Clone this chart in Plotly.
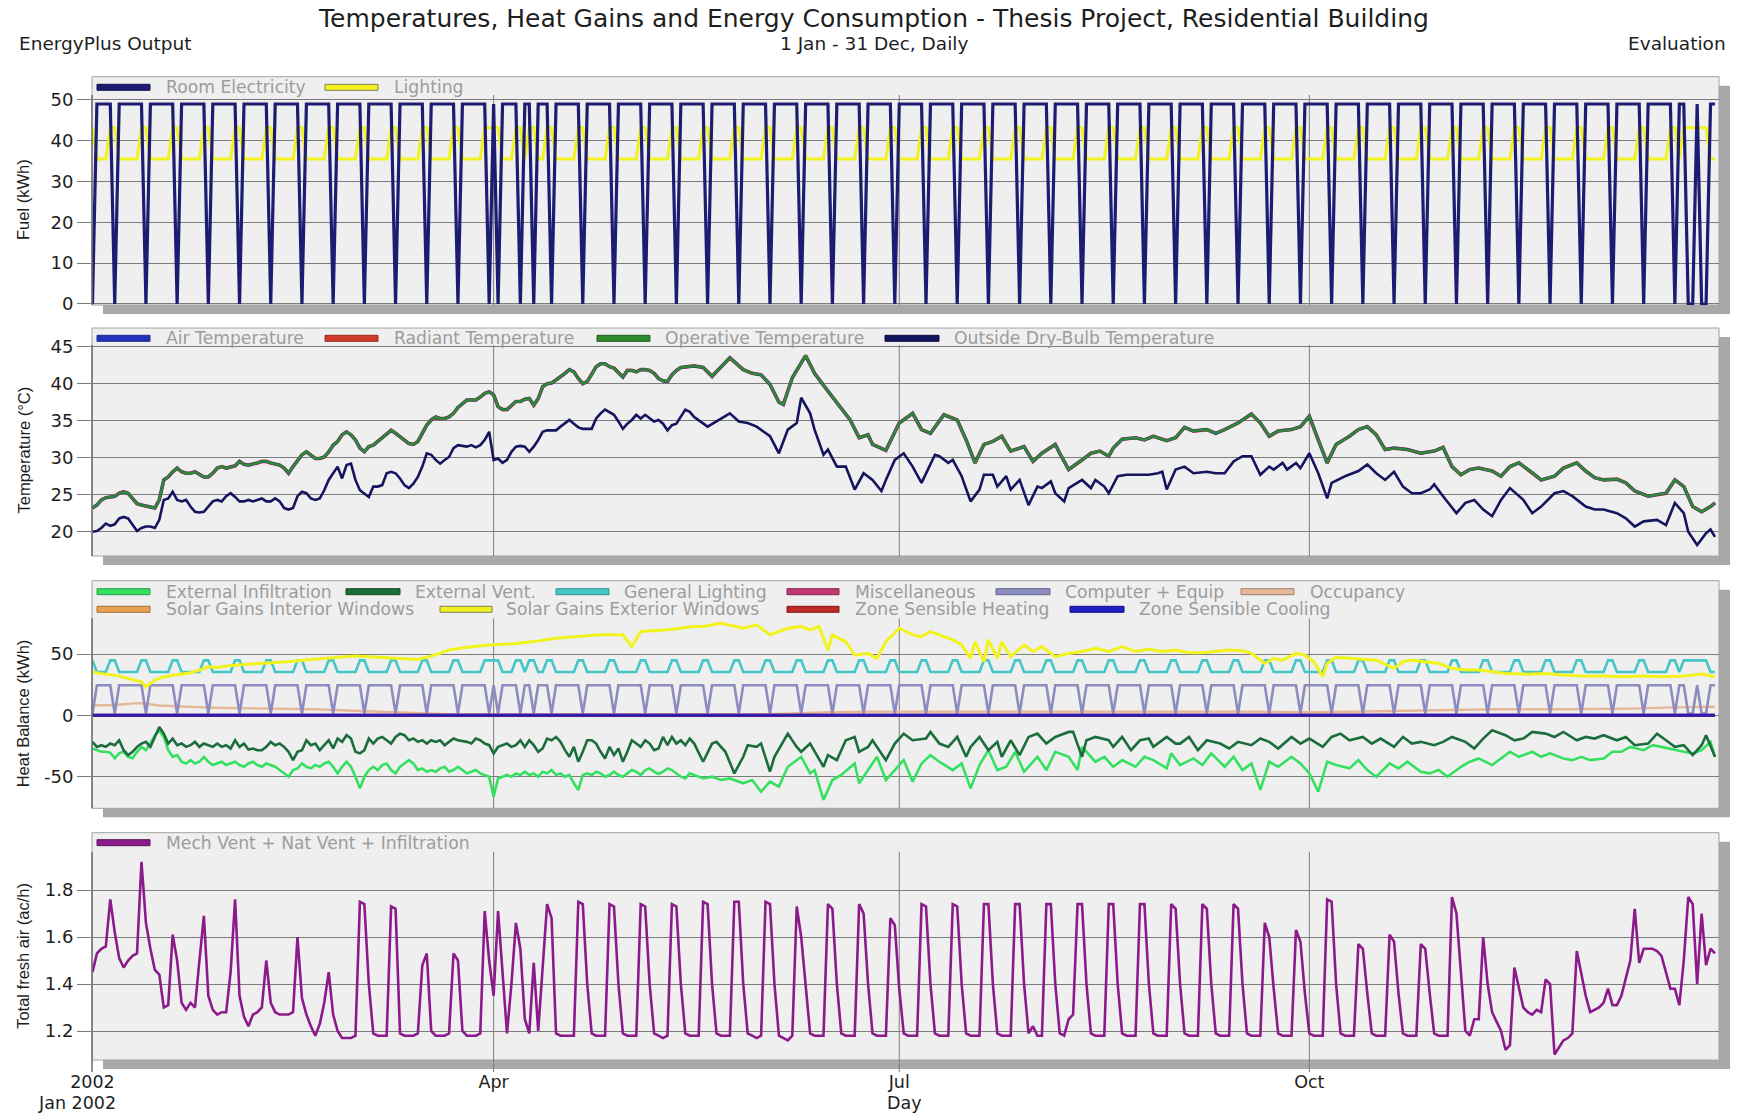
import plotly.graph_objects as go
import pandas as pd

# ===================== DATA =====================
DAYS = pd.date_range("2002-01-01", periods=365, freq="D")
START = pd.Timestamp("2002-01-01")

# ---- Panel 1: Fuel (kWh), daily; one line = one week (Tue .. Mon) ----
room_electricity = [
    0, 49, 49, 49, 49, 0, 49,
    49, 49, 49, 49, 49, 0, 49,
    49, 49, 49, 49, 49, 0, 49,
    49, 49, 49, 49, 49, 0, 49,
    49, 49, 49, 49, 49, 0, 49,
    49, 49, 49, 49, 49, 0, 49,
    49, 49, 49, 49, 49, 0, 49,
    49, 49, 49, 49, 49, 0, 49,
    49, 49, 49, 49, 49, 0, 49,
    49, 49, 49, 49, 49, 0, 49,
    49, 49, 49, 49, 49, 0, 49,
    49, 49, 49, 49, 49, 0, 49,
    49, 49, 49, 49, 49, 0, 49,
    0, 49, 49, 49, 49, 0, 49,
    49, 0, 49, 49, 49, 0, 49,
    49, 49, 49, 49, 49, 0, 49,
    49, 49, 49, 49, 49, 0, 49,
    49, 49, 49, 49, 49, 0, 49,
    49, 49, 49, 49, 49, 0, 49,
    49, 49, 49, 49, 49, 0, 49,
    49, 49, 49, 49, 49, 0, 49,
    49, 49, 49, 49, 49, 0, 49,
    49, 49, 49, 49, 49, 0, 49,
    49, 49, 49, 49, 49, 0, 49,
    49, 49, 49, 49, 49, 0, 49,
    49, 49, 49, 49, 49, 0, 49,
    49, 49, 49, 49, 49, 0, 49,
    49, 49, 49, 49, 49, 0, 49,
    49, 49, 49, 49, 49, 0, 49,
    49, 49, 49, 49, 49, 0, 49,
    49, 49, 49, 49, 49, 0, 49,
    49, 49, 49, 49, 49, 0, 49,
    49, 49, 49, 49, 49, 0, 49,
    49, 49, 49, 49, 49, 0, 49,
    49, 49, 49, 49, 49, 0, 49,
    49, 49, 49, 49, 49, 0, 49,
    49, 49, 49, 49, 49, 0, 49,
    49, 49, 49, 49, 49, 0, 49,
    49, 49, 49, 49, 49, 0, 49,
    49, 49, 49, 49, 49, 0, 49,
    49, 49, 49, 49, 49, 0, 49,
    49, 49, 49, 49, 49, 0, 49,
    49, 49, 49, 49, 49, 0, 49,
    49, 49, 49, 49, 49, 0, 49,
    49, 49, 49, 49, 49, 0, 49,
    49, 49, 49, 49, 49, 0, 49,
    49, 49, 49, 49, 49, 0, 49,
    49, 49, 49, 49, 49, 0, 49,
    49, 49, 49, 49, 49, 0, 49,
    49, 49, 49, 49, 49, 0, 49,
    49, 49, 49, 49, 49, 0, 49,
    49, 0, 0, 49, 0, 0, 49,
    49,
]
lighting = [
    43.2, 35.5, 35.5, 35.5, 43.2, 43.2, 35.5,
    35.5, 35.5, 35.5, 35.5, 43.2, 43.2, 35.5,
    35.5, 35.5, 35.5, 35.5, 43.2, 43.2, 35.5,
    35.5, 35.5, 35.5, 35.5, 43.2, 43.2, 35.5,
    35.5, 35.5, 35.5, 35.5, 43.2, 43.2, 35.5,
    35.5, 35.5, 35.5, 35.5, 43.2, 43.2, 35.5,
    35.5, 35.5, 35.5, 35.5, 43.2, 43.2, 35.5,
    35.5, 35.5, 35.5, 35.5, 43.2, 43.2, 35.5,
    35.5, 35.5, 35.5, 35.5, 43.2, 43.2, 35.5,
    35.5, 35.5, 35.5, 35.5, 43.2, 43.2, 35.5,
    35.5, 35.5, 35.5, 35.5, 43.2, 43.2, 35.5,
    35.5, 35.5, 35.5, 35.5, 43.2, 43.2, 35.5,
    35.5, 35.5, 35.5, 35.5, 43.2, 43.2, 43.2,
    43.2, 35.5, 35.5, 35.5, 43.2, 43.2, 35.5,
    43.2, 43.2, 35.5, 35.5, 43.2, 43.2, 35.5,
    35.5, 35.5, 35.5, 35.5, 43.2, 43.2, 35.5,
    35.5, 35.5, 35.5, 35.5, 43.2, 43.2, 35.5,
    35.5, 35.5, 35.5, 35.5, 43.2, 43.2, 35.5,
    35.5, 35.5, 35.5, 35.5, 43.2, 43.2, 35.5,
    35.5, 35.5, 35.5, 35.5, 43.2, 43.2, 35.5,
    35.5, 35.5, 35.5, 35.5, 43.2, 43.2, 35.5,
    35.5, 35.5, 35.5, 35.5, 43.2, 43.2, 35.5,
    35.5, 35.5, 35.5, 35.5, 43.2, 43.2, 35.5,
    35.5, 35.5, 35.5, 35.5, 43.2, 43.2, 35.5,
    35.5, 35.5, 35.5, 35.5, 43.2, 43.2, 35.5,
    35.5, 35.5, 35.5, 35.5, 43.2, 43.2, 35.5,
    35.5, 35.5, 35.5, 35.5, 43.2, 43.2, 35.5,
    35.5, 35.5, 35.5, 35.5, 43.2, 43.2, 35.5,
    35.5, 35.5, 35.5, 35.5, 43.2, 43.2, 35.5,
    35.5, 35.5, 35.5, 35.5, 43.2, 43.2, 35.5,
    35.5, 35.5, 35.5, 35.5, 43.2, 43.2, 35.5,
    35.5, 35.5, 35.5, 35.5, 43.2, 43.2, 35.5,
    35.5, 35.5, 35.5, 35.5, 43.2, 43.2, 35.5,
    35.5, 35.5, 35.5, 35.5, 43.2, 43.2, 35.5,
    35.5, 35.5, 35.5, 35.5, 43.2, 43.2, 35.5,
    35.5, 35.5, 35.5, 35.5, 43.2, 43.2, 35.5,
    35.5, 35.5, 35.5, 35.5, 43.2, 43.2, 35.5,
    35.5, 35.5, 35.5, 35.5, 43.2, 43.2, 35.5,
    35.5, 35.5, 35.5, 35.5, 43.2, 43.2, 35.5,
    35.5, 35.5, 35.5, 35.5, 43.2, 43.2, 35.5,
    35.5, 35.5, 35.5, 35.5, 43.2, 43.2, 35.5,
    35.5, 35.5, 35.5, 35.5, 43.2, 43.2, 35.5,
    35.5, 35.5, 35.5, 35.5, 43.2, 43.2, 35.5,
    35.5, 35.5, 35.5, 35.5, 43.2, 43.2, 35.5,
    35.5, 35.5, 35.5, 35.5, 43.2, 43.2, 35.5,
    35.5, 35.5, 35.5, 35.5, 43.2, 43.2, 35.5,
    35.5, 35.5, 35.5, 35.5, 43.2, 43.2, 35.5,
    35.5, 35.5, 35.5, 35.5, 43.2, 43.2, 35.5,
    35.5, 35.5, 35.5, 35.5, 43.2, 43.2, 35.5,
    35.5, 35.5, 35.5, 35.5, 43.2, 43.2, 35.5,
    35.5, 35.5, 35.5, 35.5, 43.2, 43.2, 35.5,
    43.2, 43.2, 43.2, 43.2, 43.2, 43.2, 35.5,
    35.5,
]

# ---- Panel 2: Temperatures (°C) ----
operative_daily = [
    23.2, 23.6, 24.3, 24.6, 24.7, 24.8, 25.2, 25.4, 25.2, 24.5,
    23.8, 23.6, 23.5, 23.3, 23.2, 24.3, 27.0, 27.4, 28.1, 28.6,
    28.1, 27.9, 27.9, 28.1, 27.8, 27.4, 27.4, 27.9, 28.6, 28.8,
    28.6, 28.8, 28.9, 29.5, 29.1, 29.0, 29.1, 29.3, 29.5, 29.5,
    29.3, 29.2, 29.0, 28.6, 27.9, 28.8, 29.6, 30.4, 30.8, 30.4,
    29.9, 29.9, 30.1, 30.8, 31.7, 32.2, 33.1, 33.5, 33.1, 32.4,
    31.3, 30.8, 31.5, 31.7, 32.2, 32.8, 33.3, 33.7, 33.3, 32.8,
    32.4, 31.9, 31.8, 32.2, 33.3, 34.4, 35.1, 35.5, 35.3, 35.3,
    35.5, 36.0, 36.8, 37.3, 37.8, 37.8, 37.8, 38.2, 38.7, 38.9,
    38.5, 36.9, 36.5, 36.5, 37.1, 37.6, 37.6, 37.9, 38.0, 37.1,
    38.0, 39.6, 40.0, 40.1, 40.5, 40.9, 41.4, 41.9, 41.6, 40.7,
    40.0, 40.3, 41.2, 42.3, 42.7, 42.7, 42.3, 42.1, 41.5, 40.9,
    41.8, 41.8, 41.6, 41.9, 41.9, 41.8, 41.4, 40.7, 40.4, 40.3,
    41.2, 41.8, 42.2, 42.3, 42.3, 42.4,
]
operative_tail = [
    (137, 42.2), (139, 41.0), (143, 43.5), (146, 41.9), (148, 41.4), (150, 41.2),
    (152, 39.9), (154, 37.5), (155, 37.2), (157, 40.8), (160, 43.8), (162, 41.4),
    (165, 39.0), (168, 36.7), (170, 35.1), (172, 32.7), (174, 33.1), (175, 31.8),
    (178, 31.0), (181, 34.7), (184, 36.0), (186, 33.8), (188, 33.3), (191, 35.8),
    (194, 35.1), (196, 32.4), (198, 29.3), (200, 31.8), (202, 32.2), (204, 32.9),
    (206, 30.9), (209, 31.5), (211, 29.5), (213, 30.6), (216, 31.8), (217, 30.6),
    (219, 28.4), (222, 29.7), (224, 30.6), (226, 30.9), (228, 30.2), (229, 31.3),
    (231, 32.5), (234, 32.7), (236, 32.4), (238, 32.9), (241, 32.3), (243, 32.7),
    (245, 34.1), (247, 33.6), (250, 33.8), (252, 33.3), (254, 33.8), (257, 34.7),
    (260, 35.9), (262, 34.7), (264, 32.9), (266, 33.6), (269, 33.8), (271, 34.2),
    (273, 35.6), (275, 32.4), (277, 29.3), (279, 31.8), (282, 32.9), (284, 33.8),
    (286, 34.2), (288, 33.1), (290, 31.1), (292, 31.3), (295, 31.1), (298, 30.6),
    (301, 30.9), (303, 31.4), (305, 28.8), (307, 27.7), (309, 28.4), (311, 28.6),
    (314, 28.2), (316, 27.5), (318, 28.8), (320, 29.3), (323, 28.0), (325, 27.0),
    (328, 27.5), (330, 28.6), (333, 29.3), (335, 28.2), (337, 27.3), (339, 27.0),
    (342, 27.1), (344, 26.6), (346, 25.5), (349, 24.8), (351, 25.0), (353, 25.2),
    (355, 27.0), (357, 26.1), (359, 23.4), (361, 22.7), (363, 23.4), (364, 23.9),
]
outside_daily = [
    20.0, 20.1, 20.5, 21.1, 20.8, 21.0, 21.8, 22.0, 21.8, 21.0,
    20.1, 20.5, 20.7, 20.7, 20.5, 21.6, 24.3, 24.5, 25.4, 24.3,
    24.1, 24.3, 23.4, 22.7, 22.6, 22.7, 23.4, 24.1, 24.3, 24.1,
    24.8, 25.2, 24.7, 24.1, 24.1, 24.3, 24.1, 24.3, 24.5, 24.1,
    24.1, 24.5, 24.1, 23.2, 23.0, 23.2, 24.8, 25.4, 25.2, 24.5,
    24.3, 24.5, 25.6, 27.0, 27.9, 28.8, 27.2, 29.0, 29.2, 27.0,
    25.6, 25.2, 24.7, 26.1, 26.1, 26.3, 27.9, 28.1, 27.9, 27.2,
    26.3, 25.9, 26.5, 27.4, 28.8, 30.6, 30.4, 29.7, 29.2, 29.7,
    30.1, 31.3, 31.7, 31.6, 31.5, 31.7, 31.4, 31.7, 32.4, 33.5,
    29.7, 29.9, 29.3, 29.7, 30.8, 31.5, 31.6, 31.5, 30.8, 31.5,
    32.4, 33.5, 33.7, 33.7, 33.7, 34.2, 34.6, 35.1, 34.6, 34.1,
    33.9, 33.9, 33.9, 35.3, 36.0, 36.5, 36.2, 35.8, 34.9, 33.9,
    34.6, 35.1, 35.8, 35.3, 35.8, 35.3, 34.9, 35.1, 34.6, 33.7,
    34.4, 34.6, 35.5, 36.5, 36.2, 35.5,
]
outside_tail = [
    (138, 34.2), (140, 34.9), (143, 36.0), (145, 34.9), (147, 34.7), (149, 34.2),
    (152, 32.9), (154, 30.6), (156, 33.8), (158, 34.7), (159, 38.1), (161, 36.0),
    (162, 33.8), (164, 30.4), (165, 31.1), (167, 28.8), (169, 28.8), (171, 25.7),
    (173, 27.9), (175, 27.0), (177, 25.5), (178, 27.0), (180, 29.7), (182, 30.6),
    (184, 28.8), (186, 26.6), (187, 27.9), (189, 30.4), (190, 30.2), (192, 29.3),
    (193, 29.7), (195, 27.5), (197, 24.1), (199, 25.7), (200, 27.7), (202, 27.7),
    (203, 26.1), (205, 27.5), (206, 25.7), (208, 27.0), (210, 23.6), (212, 26.1),
    (213, 25.9), (215, 26.8), (216, 25.2), (218, 24.1), (219, 25.9), (221, 26.6),
    (222, 27.0), (224, 25.9), (225, 27.0), (227, 26.1), (228, 25.2), (230, 27.5),
    (232, 27.7), (234, 27.7), (237, 27.7), (239, 27.9), (240, 28.1), (241, 25.7),
    (243, 28.4), (245, 28.8), (247, 27.9), (250, 28.1), (252, 27.9), (254, 27.9),
    (256, 29.5), (258, 30.2), (260, 30.2), (262, 27.7), (264, 28.8), (265, 28.4),
    (267, 29.3), (268, 28.4), (270, 29.3), (271, 28.6), (273, 30.6), (275, 27.9),
    (277, 24.5), (278, 26.6), (281, 27.5), (284, 28.2), (286, 29.1), (288, 27.9),
    (290, 27.0), (292, 28.1), (294, 26.1), (296, 25.2), (298, 25.2), (300, 25.7),
    (301, 26.4), (303, 24.8), (306, 22.5), (308, 23.9), (310, 24.3), (312, 23.0),
    (314, 22.1), (316, 24.3), (318, 25.9), (321, 24.3), (323, 22.5), (325, 23.4),
    (328, 25.2), (330, 25.5), (332, 24.8), (335, 23.4), (337, 23.0), (339, 23.0),
    (342, 22.5), (344, 21.8), (346, 20.7), (348, 21.4), (351, 21.6), (353, 20.9),
    (355, 23.9), (357, 22.5), (358, 20.0), (360, 18.2), (362, 19.8), (363, 20.3),
    (364, 19.3),
]

# ---- Panel 3: Heat balance (kWh) ----
infiltration_daily = [
    -27, -28.4, -29.7, -29.7, -30.5, -35, -31, -29.7, -33.8, -35,
    -29.7, -25.7, -28.4, -23, -16.2, -12.2, -17.6, -28.4, -33.8, -32.4,
    -37.8, -39.2, -36.5, -39.2, -37.8, -33.8, -37.8, -40.5, -39.2, -37.8,
    -40.5, -39.2, -37.8, -40.5, -41.9, -39.2, -37.8, -40.5, -41.9, -39.2,
    -40.5, -41.9, -44.6, -47.3, -50, -44.6, -43.2, -39.2, -41.9, -43.2,
    -40.5, -41.9, -39.2, -37.8, -41.9, -47.3, -41.9, -37.8, -41.9, -50,
    -59.5, -50, -44.6, -41.9, -44.6, -40.5, -39.2, -44.6, -47.3, -41.9,
    -39.2, -36.5, -39.2, -44.6, -43.2, -45.9, -44.6, -45.9, -43.2, -41.9,
    -45.9, -44.6, -41.9, -44.6, -47.3, -45.9, -44.6, -47.3, -48.6, -50,
    -66.2, -51.4, -50, -48.6, -50, -47.3, -48.6, -45.9, -48.6, -47.3,
    -50, -45.9, -47.3, -44.6, -48.6, -47.3, -50, -48.6, -55.4, -60.8,
    -48.6, -47.3, -48.6, -45.9, -47.3, -50, -48.6, -45.9, -48.6, -50,
    -47.3, -44.6, -45.9, -48.6, -44.6, -43.2, -45.9, -47.8, -45.9, -43.2,
    -44.6, -47.3, -50, -51.4, -47.3, -48.6,
]
infiltration_tail = [
    (137, -51.4), (139, -50), (141, -52.7), (143, -51.4), (146, -55.4), (148, -52.7),
    (150, -62.2), (152, -54.1), (154, -58.1), (156, -41.9), (159, -33.8), (161, -47.3),
    (162, -44.6), (164, -68.9), (166, -52.7), (168, -48.6), (171, -39.2), (172, -55.4),
    (174, -44.6), (176, -33.8), (178, -52.7), (181, -40.5), (182, -36.5), (184, -54.1),
    (186, -39.2), (188, -32.4), (190, -37.8), (193, -44.6), (195, -39.2), (197, -59.5),
    (199, -40.5), (201, -28.4), (203, -44.6), (205, -41.9), (207, -29.7), (209, -45.9),
    (212, -33.8), (214, -44.6), (216, -29.7), (219, -33.8), (221, -44.6), (222, -25.7),
    (225, -37.8), (227, -33.8), (229, -41.9), (231, -36.5), (234, -41.9), (236, -33.8),
    (238, -36.5), (241, -43.2), (242, -31), (244, -40.5), (247, -35.1), (249, -40.5),
    (251, -31), (254, -41.9), (256, -33.8), (258, -44.6), (260, -39.2), (262, -60.8),
    (264, -37.8), (266, -41.9), (269, -33.8), (271, -39.2), (273, -47.3), (275, -62.2),
    (277, -37.8), (279, -40.5), (282, -43.2), (284, -36.5), (286, -44.6), (288, -50),
    (291, -39.2), (293, -43.2), (295, -37.8), (298, -45.9), (300, -47.3), (302, -44.6),
    (304, -50), (307, -41.9), (309, -37.8), (311, -35.1), (314, -40.5), (316, -35.1),
    (318, -29.7), (320, -33.8), (323, -29.7), (325, -33.8), (327, -31), (330, -35.1),
    (332, -36.5), (334, -33.8), (336, -36.5), (339, -35.1), (341, -29.7), (343, -29.7),
    (345, -25.7), (348, -28.4), (350, -24.3), (352, -25.7), (355, -28.4), (357, -29.7),
    (359, -31), (361, -28.4), (363, -21.6), (364, -33.8),
]
vent_daily = [
    -21.6, -25.7, -24.3, -25.7, -23, -24.3, -20.3, -28.4, -32.4, -29.7,
    -25.7, -23, -21.6, -25.7, -17.6, -9.5, -14.9, -23, -18.9, -24.3,
    -23, -25.7, -24.3, -21.6, -25.7, -23, -24.3, -25.7, -23, -25.7,
    -24.3, -27, -20.3, -25.7, -23, -27.8, -27, -28.4, -28.4, -25.7,
    -21.6, -24.3, -23, -25.7, -29.7, -36.5, -29.7, -28.4, -20.3, -24.3,
    -23, -28.4, -24.3, -20.3, -27, -18.9, -21.6, -16.2, -18.9, -29.7,
    -31, -28.4, -18.9, -23, -18.9, -17.6, -20.3, -23, -17.6, -14.9,
    -16.2, -20.3, -18.9, -21.6, -20.3, -23, -20.3, -21.6, -20.3, -24.3,
    -21.6, -18.9, -20.3, -20.8, -21.6, -23, -18.9, -20.3, -23, -24.3,
    -31, -25.7, -24.3, -23, -25.7, -24.3, -20.3, -25.7, -20.3, -24.3,
    -29.7, -27, -18.9, -20.3, -17.6, -21.6, -28.4, -33.8, -25.7, -37.8,
    -29.7, -20.3, -20.3, -23, -29.7, -35.1, -25.7, -32.4, -27, -37.8,
    -29.7, -20.3, -23, -25.7, -20.3, -23, -28.4, -27, -17.6, -24.3,
    -17.6, -23, -20.3, -24.3, -18.9, -23,
]
vent_tail = [
    (137, -37.8), (139, -23), (140, -21.6), (142, -29.7), (144, -47.3), (146, -33.8),
    (147, -24.3), (149, -25.7), (150, -23), (152, -45.9), (153, -33.8), (156, -14.9),
    (158, -25.7), (159, -29.7), (161, -23), (162, -29.7), (164, -41.9), (165, -32.4),
    (167, -36.5), (169, -20.3), (171, -17.6), (172, -29.7), (174, -25.7), (175, -20.3),
    (178, -36.5), (180, -23), (182, -14.9), (184, -20.3), (187, -18.9), (188, -13.5),
    (190, -23), (192, -25.7), (194, -17.6), (196, -33.8), (197, -25.7), (199, -17.6),
    (201, -28.4), (203, -21.6), (204, -33.8), (206, -20.3), (208, -32.4), (210, -17.6),
    (212, -14.9), (214, -23), (216, -17.6), (219, -13.5), (220, -13.5), (222, -33.8),
    (223, -20.3), (225, -17.6), (228, -20.3), (229, -25.7), (231, -17.6), (233, -28.4),
    (235, -20.3), (237, -18.9), (238, -25.7), (241, -17.6), (243, -23), (244, -23),
    (246, -17.6), (248, -28.4), (250, -20.3), (253, -23), (255, -27), (257, -21.6),
    (260, -24.3), (262, -18.9), (264, -21.6), (266, -27), (269, -17.6), (271, -23),
    (273, -18.9), (276, -25.7), (278, -17.6), (280, -14.9), (282, -20.3), (285, -17.6),
    (287, -23), (289, -18.9), (292, -25.7), (294, -17.6), (296, -23), (298, -21.6),
    (301, -24.3), (303, -21.6), (305, -17.6), (308, -21.6), (310, -27), (312, -18.9),
    (314, -12.2), (317, -16.2), (319, -20.3), (321, -18.9), (323, -13.5), (326, -14.9),
    (328, -17.6), (330, -13.5), (333, -20.3), (335, -17.6), (337, -18.9), (339, -16.2),
    (342, -20.3), (344, -17.6), (346, -24.3), (349, -23), (351, -14.9), (353, -20.3),
    (355, -25.7), (357, -24.3), (359, -32.4), (361, -24.3), (362, -16.2), (364, -33.8),
]
general_lighting = [
    44.8, 35.3, 35.3, 35.3, 44.8, 44.8, 35.3,
    35.3, 35.3, 35.3, 35.3, 44.8, 44.8, 35.3,
    35.3, 35.3, 35.3, 35.3, 44.8, 44.8, 35.3,
    35.3, 35.3, 35.3, 35.3, 44.8, 44.8, 35.3,
    35.3, 35.3, 35.3, 35.3, 44.8, 44.8, 35.3,
    35.3, 35.3, 35.3, 35.3, 44.8, 44.8, 35.3,
    35.3, 35.3, 35.3, 35.3, 44.8, 44.8, 35.3,
    35.3, 35.3, 35.3, 35.3, 44.8, 44.8, 35.3,
    35.3, 35.3, 35.3, 35.3, 44.8, 44.8, 35.3,
    35.3, 35.3, 35.3, 35.3, 44.8, 44.8, 35.3,
    35.3, 35.3, 35.3, 35.3, 44.8, 44.8, 35.3,
    35.3, 35.3, 35.3, 35.3, 44.8, 44.8, 35.3,
    35.3, 35.3, 35.3, 35.3, 44.8, 44.8, 44.8,
    44.8, 35.3, 35.3, 35.3, 44.8, 44.8, 35.3,
    44.8, 44.8, 35.3, 35.3, 44.8, 44.8, 35.3,
    35.3, 35.3, 35.3, 35.3, 44.8, 44.8, 35.3,
    35.3, 35.3, 35.3, 35.3, 44.8, 44.8, 35.3,
    35.3, 35.3, 35.3, 35.3, 44.8, 44.8, 35.3,
    35.3, 35.3, 35.3, 35.3, 44.8, 44.8, 35.3,
    35.3, 35.3, 35.3, 35.3, 44.8, 44.8, 35.3,
    35.3, 35.3, 35.3, 35.3, 44.8, 44.8, 35.3,
    35.3, 35.3, 35.3, 35.3, 44.8, 44.8, 35.3,
    35.3, 35.3, 35.3, 35.3, 44.8, 44.8, 35.3,
    35.3, 35.3, 35.3, 35.3, 44.8, 44.8, 35.3,
    35.3, 35.3, 35.3, 35.3, 44.8, 44.8, 35.3,
    35.3, 35.3, 35.3, 35.3, 44.8, 44.8, 35.3,
    35.3, 35.3, 35.3, 35.3, 44.8, 44.8, 35.3,
    35.3, 35.3, 35.3, 35.3, 44.8, 44.8, 35.3,
    35.3, 35.3, 35.3, 35.3, 44.8, 44.8, 35.3,
    35.3, 35.3, 35.3, 35.3, 44.8, 44.8, 35.3,
    35.3, 35.3, 35.3, 35.3, 44.8, 44.8, 35.3,
    35.3, 35.3, 35.3, 35.3, 44.8, 44.8, 35.3,
    35.3, 35.3, 35.3, 35.3, 44.8, 44.8, 35.3,
    35.3, 35.3, 35.3, 35.3, 44.8, 44.8, 35.3,
    35.3, 35.3, 35.3, 35.3, 44.8, 44.8, 35.3,
    35.3, 35.3, 35.3, 35.3, 44.8, 44.8, 35.3,
    35.3, 35.3, 35.3, 35.3, 44.8, 44.8, 35.3,
    35.3, 35.3, 35.3, 35.3, 44.8, 44.8, 35.3,
    35.3, 35.3, 35.3, 35.3, 44.8, 44.8, 35.3,
    35.3, 35.3, 35.3, 35.3, 44.8, 44.8, 35.3,
    35.3, 35.3, 35.3, 35.3, 44.8, 44.8, 35.3,
    35.3, 35.3, 35.3, 35.3, 44.8, 44.8, 35.3,
    35.3, 35.3, 35.3, 35.3, 44.8, 44.8, 35.3,
    35.3, 35.3, 35.3, 35.3, 44.8, 44.8, 35.3,
    35.3, 35.3, 35.3, 35.3, 44.8, 44.8, 35.3,
    35.3, 35.3, 35.3, 35.3, 44.8, 44.8, 35.3,
    35.3, 35.3, 35.3, 35.3, 44.8, 44.8, 35.3,
    35.3, 35.3, 35.3, 35.3, 44.8, 44.8, 35.3,
    35.3, 35.3, 35.3, 35.3, 44.8, 44.8, 35.3,
    35.3, 35.3, 35.3, 35.3, 44.8, 44.8, 35.3,
    35.3, 35.3, 35.3, 35.3, 44.8, 44.8, 35.3,
    44.8, 44.8, 44.8, 44.8, 44.8, 44.8, 35.3,
    35.3,
]
computer_equip = [
    1.5, 24.5, 24.5, 24.5, 24.5, 1.5, 24.5,
    24.5, 24.5, 24.5, 24.5, 24.5, 1.5, 24.5,
    24.5, 24.5, 24.5, 24.5, 24.5, 1.5, 24.5,
    24.5, 24.5, 24.5, 24.5, 24.5, 1.5, 24.5,
    24.5, 24.5, 24.5, 24.5, 24.5, 1.5, 24.5,
    24.5, 24.5, 24.5, 24.5, 24.5, 1.5, 24.5,
    24.5, 24.5, 24.5, 24.5, 24.5, 1.5, 24.5,
    24.5, 24.5, 24.5, 24.5, 24.5, 1.5, 24.5,
    24.5, 24.5, 24.5, 24.5, 24.5, 1.5, 24.5,
    24.5, 24.5, 24.5, 24.5, 24.5, 1.5, 24.5,
    24.5, 24.5, 24.5, 24.5, 24.5, 1.5, 24.5,
    24.5, 24.5, 24.5, 24.5, 24.5, 1.5, 24.5,
    24.5, 24.5, 24.5, 24.5, 24.5, 1.5, 24.5,
    1.5, 24.5, 24.5, 24.5, 24.5, 1.5, 24.5,
    24.5, 1.5, 24.5, 24.5, 24.5, 1.5, 24.5,
    24.5, 24.5, 24.5, 24.5, 24.5, 1.5, 24.5,
    24.5, 24.5, 24.5, 24.5, 24.5, 1.5, 24.5,
    24.5, 24.5, 24.5, 24.5, 24.5, 1.5, 24.5,
    24.5, 24.5, 24.5, 24.5, 24.5, 1.5, 24.5,
    24.5, 24.5, 24.5, 24.5, 24.5, 1.5, 24.5,
    24.5, 24.5, 24.5, 24.5, 24.5, 1.5, 24.5,
    24.5, 24.5, 24.5, 24.5, 24.5, 1.5, 24.5,
    24.5, 24.5, 24.5, 24.5, 24.5, 1.5, 24.5,
    24.5, 24.5, 24.5, 24.5, 24.5, 1.5, 24.5,
    24.5, 24.5, 24.5, 24.5, 24.5, 1.5, 24.5,
    24.5, 24.5, 24.5, 24.5, 24.5, 1.5, 24.5,
    24.5, 24.5, 24.5, 24.5, 24.5, 1.5, 24.5,
    24.5, 24.5, 24.5, 24.5, 24.5, 1.5, 24.5,
    24.5, 24.5, 24.5, 24.5, 24.5, 1.5, 24.5,
    24.5, 24.5, 24.5, 24.5, 24.5, 1.5, 24.5,
    24.5, 24.5, 24.5, 24.5, 24.5, 1.5, 24.5,
    24.5, 24.5, 24.5, 24.5, 24.5, 1.5, 24.5,
    24.5, 24.5, 24.5, 24.5, 24.5, 1.5, 24.5,
    24.5, 24.5, 24.5, 24.5, 24.5, 1.5, 24.5,
    24.5, 24.5, 24.5, 24.5, 24.5, 1.5, 24.5,
    24.5, 24.5, 24.5, 24.5, 24.5, 1.5, 24.5,
    24.5, 24.5, 24.5, 24.5, 24.5, 1.5, 24.5,
    24.5, 24.5, 24.5, 24.5, 24.5, 1.5, 24.5,
    24.5, 24.5, 24.5, 24.5, 24.5, 1.5, 24.5,
    24.5, 24.5, 24.5, 24.5, 24.5, 1.5, 24.5,
    24.5, 24.5, 24.5, 24.5, 24.5, 1.5, 24.5,
    24.5, 24.5, 24.5, 24.5, 24.5, 1.5, 24.5,
    24.5, 24.5, 24.5, 24.5, 24.5, 1.5, 24.5,
    24.5, 24.5, 24.5, 24.5, 24.5, 1.5, 24.5,
    24.5, 24.5, 24.5, 24.5, 24.5, 1.5, 24.5,
    24.5, 24.5, 24.5, 24.5, 24.5, 1.5, 24.5,
    24.5, 24.5, 24.5, 24.5, 24.5, 1.5, 24.5,
    24.5, 24.5, 24.5, 24.5, 24.5, 1.5, 24.5,
    24.5, 24.5, 24.5, 24.5, 24.5, 1.5, 24.5,
    24.5, 24.5, 24.5, 24.5, 24.5, 1.5, 24.5,
    24.5, 24.5, 24.5, 24.5, 24.5, 1.5, 24.5,
    24.5, 1.5, 1.5, 24.5, 1.5, 1.5, 24.5,
    24.5,
]
solar_ext_points = [
    (0, 35.5), (2, 34.0), (5, 32.8), (8, 30.0), (11, 27.3), (12, 23.2), (14, 28.7),
    (16, 31.4), (19, 32.8), (22, 34.7), (24, 36.9), (26, 39.6), (28, 39.0), (30, 40.2),
    (34, 41.5), (39, 42.3), (44, 43.7), (49, 45.6), (54, 47.3), (59, 48.4), (64, 47.3),
    (69, 46.4), (73, 45.6), (75, 47.3), (78, 50.5), (80, 53.3), (84, 55.5), (89, 57.4),
    (94, 58.2), (99, 60.1), (104, 62.8), (109, 64.2), (114, 65.6), (119, 65.6), (121, 56.0),
    (123, 68.3), (129, 69.7), (135, 72.4), (137, 72.4), (141, 75.0), (146, 71.0), (149, 73.8),
    (152, 65.6), (156, 71.0), (159, 72.4), (161, 69.7), (163, 72.4), (165, 53.3), (166, 65.6),
    (169, 60.0), (171, 49.0), (174, 50.5), (176, 46.4), (178, 60.0), (181, 71.0), (184, 65.6),
    (186, 64.2), (188, 68.3), (190, 65.6), (193, 61.5), (195, 57.4), (197, 46.4), (198, 60.0),
    (200, 43.7), (201, 61.5), (203, 46.4), (204, 60.0), (206, 47.8), (209, 57.4), (211, 52.0),
    (213, 56.0), (216, 47.8), (219, 50.5), (222, 52.0), (225, 54.6), (228, 52.0), (231, 56.0),
    (234, 52.0), (237, 53.8), (240, 52.0), (243, 53.3), (246, 51.0), (249, 51.0), (252, 52.0),
    (255, 53.3), (258, 52.7), (260, 50.5), (263, 42.3), (265, 46.4), (267, 45.0), (270, 50.5),
    (272, 49.0), (274, 43.7), (276, 31.4), (277, 42.3), (279, 47.3), (282, 46.4), (285, 45.6),
    (288, 45.0), (292, 38.3), (294, 43.7), (296, 45.0), (299, 43.7), (302, 42.3), (305, 38.3),
    (308, 36.9), (311, 36.9), (314, 35.5), (317, 34.2), (322, 33.6), (326, 34.2), (330, 32.8),
    (334, 32.0), (339, 32.0), (343, 31.4), (348, 32.0), (352, 31.4), (357, 32.0), (361, 33.6),
    (364, 31.4),
]
occupancy_points = [
    (0, 8.0), (5, 8.5), (10, 10.0), (12, 9.5), (15, 8.0), (20, 7.0), (25, 6.5), (30, 6.0),
    (40, 5.5), (50, 5.0), (60, 3.5), (70, 2.0), (80, 1.0), (90, 0.8), (120, 0.5), (150, 0.8),
    (165, 2.5), (175, 3.0), (200, 3.0), (230, 3.2), (260, 3.0), (275, 2.5), (290, 3.5),
    (305, 4.0), (315, 5.0), (330, 5.0), (345, 5.5), (355, 6.5), (364, 7.0),
]
flat_days = [0, 364]
miscellaneous = [0, 0]
solar_interior = [0, 0]
zone_heating = [0, 0]
zone_cooling = [0, 0]

# ---- Panel 4: Total fresh air (ac/h), daily; one line = one week ----
fresh_air = [
    1.45, 1.53, 1.55, 1.56, 1.76, 1.62, 1.51,
    1.47, 1.50, 1.52, 1.53, 1.92, 1.66, 1.55,
    1.46, 1.44, 1.30, 1.31, 1.61, 1.50, 1.32,
    1.29, 1.32, 1.30, 1.50, 1.69, 1.35, 1.29,
    1.27, 1.28, 1.28, 1.45, 1.76, 1.35, 1.26,
    1.22, 1.27, 1.28, 1.30, 1.50, 1.32, 1.28,
    1.27, 1.27, 1.27, 1.28, 1.60, 1.34, 1.27,
    1.22, 1.18, 1.23, 1.32, 1.45, 1.27, 1.20,
    1.17, 1.17, 1.17, 1.18, 1.75, 1.74, 1.40,
    1.19, 1.18, 1.18, 1.18, 1.73, 1.72, 1.19,
    1.18, 1.18, 1.18, 1.19, 1.48, 1.53, 1.20,
    1.18, 1.18, 1.18, 1.19, 1.53, 1.50, 1.20,
    1.18, 1.18, 1.18, 1.19, 1.71, 1.50, 1.35,
    1.71, 1.45, 1.19, 1.40, 1.66, 1.55, 1.25,
    1.19, 1.49, 1.20, 1.45, 1.74, 1.68, 1.19,
    1.18, 1.18, 1.18, 1.18, 1.75, 1.74, 1.40,
    1.19, 1.18, 1.18, 1.18, 1.74, 1.73, 1.40,
    1.19, 1.18, 1.18, 1.18, 1.74, 1.73, 1.40,
    1.19, 1.18, 1.17, 1.18, 1.74, 1.73, 1.40,
    1.19, 1.18, 1.18, 1.18, 1.75, 1.74, 1.40,
    1.19, 1.18, 1.18, 1.18, 1.75, 1.75, 1.40,
    1.19, 1.18, 1.17, 1.18, 1.75, 1.74, 1.40,
    1.18, 1.17, 1.16, 1.18, 1.73, 1.60, 1.38,
    1.19, 1.18, 1.18, 1.18, 1.74, 1.72, 1.40,
    1.19, 1.18, 1.18, 1.18, 1.74, 1.70, 1.40,
    1.19, 1.18, 1.18, 1.18, 1.68, 1.65, 1.38,
    1.19, 1.18, 1.18, 1.18, 1.74, 1.73, 1.40,
    1.19, 1.18, 1.18, 1.18, 1.74, 1.73, 1.40,
    1.19, 1.18, 1.18, 1.18, 1.74, 1.74, 1.40,
    1.19, 1.18, 1.18, 1.18, 1.74, 1.74, 1.40,
    1.19, 1.22, 1.18, 1.18, 1.74, 1.74, 1.40,
    1.19, 1.18, 1.25, 1.27, 1.74, 1.74, 1.40,
    1.19, 1.18, 1.18, 1.18, 1.74, 1.74, 1.40,
    1.19, 1.18, 1.18, 1.18, 1.74, 1.74, 1.40,
    1.19, 1.18, 1.18, 1.18, 1.74, 1.72, 1.40,
    1.19, 1.18, 1.18, 1.18, 1.74, 1.72, 1.40,
    1.19, 1.18, 1.18, 1.18, 1.74, 1.72, 1.40,
    1.19, 1.18, 1.18, 1.18, 1.66, 1.60, 1.38,
    1.19, 1.18, 1.18, 1.18, 1.63, 1.58, 1.36,
    1.19, 1.18, 1.18, 1.18, 1.76, 1.75, 1.40,
    1.19, 1.18, 1.18, 1.18, 1.57, 1.55, 1.36,
    1.19, 1.18, 1.18, 1.18, 1.61, 1.58, 1.36,
    1.19, 1.18, 1.18, 1.18, 1.57, 1.55, 1.36,
    1.19, 1.18, 1.18, 1.18, 1.77, 1.70, 1.45,
    1.20, 1.18, 1.25, 1.25, 1.60, 1.40, 1.28,
    1.24, 1.20, 1.12, 1.14, 1.47, 1.38, 1.30,
    1.28, 1.27, 1.29, 1.28, 1.42, 1.40, 1.10,
    1.13, 1.16, 1.17, 1.19, 1.54, 1.45, 1.35,
    1.28, 1.29, 1.30, 1.32, 1.38, 1.31, 1.31,
    1.35, 1.42, 1.50, 1.72, 1.49, 1.55, 1.55,
    1.55, 1.54, 1.52, 1.45, 1.38, 1.38, 1.31,
    1.50, 1.77, 1.74, 1.40, 1.70, 1.48, 1.55,
    1.53,
]

# y-axis tick values / labels and x-axis ticks
fuel_ticks = [0, 10, 20, 30, 40, 50]
temp_ticks = [20, 25, 30, 35, 40, 45]
heat_ticks = [-50, 0, 50]
heat_tick_text = ["-50", "0", "50"]
air_ticks = [1.2, 1.4, 1.6, 1.8]
air_tick_text = ["1.2", "1.4", "1.6", "1.8"]
x_tick_dates = ["2002-01-01", "2002-04-01", "2002-07-01", "2002-10-01"]
x_tick_text = ["2002", "Apr", "Jul", "Oct"]
month_grid_dates = ["2002-04-01", "2002-07-01", "2002-10-01"]

for s in (room_electricity, lighting, general_lighting, computer_equip, fresh_air):
    assert len(s) == 365, len(s)


def to_dates(day_numbers):
    return [START + pd.Timedelta(days=d) for d in day_numbers]


def split(daily, tail):
    days = list(range(len(daily))) + [d for d, _ in tail]
    vals = list(daily) + [v for _, v in tail]
    return to_dates(days), vals


# ===================== STYLE / LAYOUT =====================
W, H = 1742, 1114
X_L, X_R = 92, 1719
FONT = "DejaVu Sans"
FONT_V = "Liberation Sans"
TXT = "#1e1e1e"
LEG_TXT = "#9c9c9c"
GRID = "#7c7c7c"
X_TICK_LEN = 12


def fx(p):
    return p / W


def fy(p):
    return 1 - p / H


PANELS = [
    dict(box_top=76.7, top=95.0, bot=305.0, rng=[-0.25, 51.2], title="Fuel (kWh)"),
    dict(box_top=328.0, top=345.0, bot=556.0, rng=[16.72, 45.23], title="Temperature (°C)"),
    dict(box_top=580.7, top=618.3, bot=808.3, rng=[-75.75, 79.1], title="Heat Balance (kWh)"),
    dict(box_top=832.7, top=851.7, bot=1060.0, rng=[1.0766, 1.963], title="Total fresh air (ac/h)"),
]

C = dict(
    room="#1c1c72", light="#f2f21c",
    air="#2233bb", rad="#d03a2a", op="#2e8b2e", out="#15155f",
    infil="#35e060", vent="#1b6d3b", glight="#45c6c6", misc="#6a1f70",
    comp="#8c8cc0", occ="#e6b898", solint="#e8a050", solext="#f2f21c",
    heat="#c02828", cool="#1f1fc4", fresh="#8b1a8b",
)

fig = go.Figure()


def add(x, y, color, width, yaxis, name):
    fig.add_trace(go.Scatter(x=x, y=y, mode="lines", name=name, yaxis=yaxis, xaxis="x",
                             line=dict(color=color, width=width), showlegend=False,
                             hoverinfo="skip"))


# Panel 1
add(DAYS, lighting, C["light"], 3, "y", "Lighting")
add(DAYS, room_electricity, C["room"], 3.2, "y", "Room Electricity")

# Panel 2
op_x, op_y = split(operative_daily, operative_tail)
out_x, out_y = split(outside_daily, outside_tail)
add(op_x, op_y, C["rad"], 3.6, "y2", "Radiant Temperature")
add(op_x, op_y, C["air"], 3.0, "y2", "Air Temperature")
add(op_x, op_y, C["op"], 2.4, "y2", "Operative Temperature")
add(out_x, out_y, C["out"], 2.6, "y2", "Outside Dry-Bulb Temperature")

# Panel 3
occ_x = to_dates([d for d, _ in occupancy_points])
occ_y = [v for _, v in occupancy_points]
sol_x = to_dates([d for d, _ in solar_ext_points])
sol_y = [v for _, v in solar_ext_points]
flat_x = to_dates(flat_days)
inf_x, inf_y = split(infiltration_daily, infiltration_tail)
ven_x, ven_y = split(vent_daily, vent_tail)
add(occ_x, occ_y, C["occ"], 2.4, "y3", "Occupancy")
add(DAYS, computer_equip, C["comp"], 2.6, "y3", "Computer + Equip")
add(DAYS, general_lighting, C["glight"], 2.6, "y3", "General Lighting")
add(sol_x, sol_y, C["solext"], 3, "y3", "Solar Gains Exterior Windows")
add(flat_x, solar_interior, C["solint"], 2.5, "y3", "Solar Gains Interior Windows")
add(flat_x, zone_heating, C["heat"], 2.5, "y3", "Zone Sensible Heating")
add(flat_x, miscellaneous, C["misc"], 3.5, "y3", "Miscellaneous")
add(flat_x, zone_cooling, C["cool"], 2.0, "y3", "Zone Sensible Cooling")
add(inf_x, inf_y, C["infil"], 2.6, "y3", "External Infiltration")
add(ven_x, ven_y, C["vent"], 2.6, "y3", "External Vent.")

# Panel 4
add(DAYS, fresh_air, C["fresh"], 2.6, "y4", "Mech Vent + Nat Vent + Infiltration")

shapes = []
annotations = []

for i, p in enumerate(PANELS):
    last = i == len(PANELS) - 1
    ext = X_TICK_LEN if last else 0   # bottom panel: lines continue as x-axis ticks
    # drop shadow
    shapes.append(dict(type="rect", xref="paper", yref="paper", layer="below",
                       x0=fx(X_L + 11), x1=fx(X_R + 11), y0=fy(p["bot"] + 9), y1=fy(p["box_top"] + 9),
                       fillcolor="#a9a9a9", line=dict(width=0)))
    # panel box
    shapes.append(dict(type="rect", xref="paper", yref="paper", layer="below",
                       x0=fx(X_L), x1=fx(X_R), y0=fy(p["bot"]), y1=fy(p["box_top"]),
                       fillcolor="#efefef", line=dict(color="#a2a2a2", width=1)))
    # vertical month grid lines
    for d in month_grid_dates:
        shapes.append(dict(type="line", xref="x", yref="paper", layer="below",
                           x0=d, x1=d, y0=fy(p["bot"] + ext), y1=fy(p["top"]),
                           line=dict(color=GRID, width=1)))
    # left axis line
    shapes.append(dict(type="line", xref="paper", yref="paper", layer="above",
                       x0=fx(X_L), x1=fx(X_L), y0=fy(p["bot"] + ext), y1=fy(p["top"]),
                       line=dict(color="#6e6e6e", width=1.5)))
    # y-axis title
    annotations.append(dict(text=p["title"], xref="paper", yref="paper", showarrow=False,
                            x=fx(23), y=fy((p["top"] + p["bot"]) / 2), textangle=-90,
                            xanchor="center", yanchor="middle",
                            font=dict(family=FONT_V, size=16.5, color=TXT)))

# Legends (manual, laid out like the reference)
LEGENDS = [
    (87.3, [(97, 150, C["room"], "#10104a", "Room Electricity", 164),
            (325, 378, C["light"], "#7d7d5e", "Lighting", 392)]),
    (338.3, [(97, 150, C["air"], "#1a2a90", "Air Temperature", 164),
             (325, 378, C["rad"], "#a02a1a", "Radiant Temperature", 392),
             (597, 650, C["op"], "#1e5e1e", "Operative Temperature", 663),
             (885, 939, C["out"], "#0a0a40", "Outside Dry-Bulb Temperature", 952)]),
    (591.7, [(97, 150, C["infil"], "#2a9a4a", "External Infiltration", 164),
             (346, 400, C["vent"], "#104a28", "External Vent.", 413),
             (556, 609, C["glight"], "#308f8f", "General Lighting", 622),
             (787, 839, "#c03a70", "#8a2050", "Miscellaneous", 853),
             (996, 1050, C["comp"], "#64648c", "Computer + Equip", 1063),
             (1241, 1294, C["occ"], "#a08070", "Occupancy", 1308)]),
    (609.3, [(97, 150, C["solint"], "#a07030", "Solar Gains Interior Windows", 164),
             (440, 492, C["solext"], "#7d7d5e", "Solar Gains Exterior Windows", 504),
             (787, 839, C["heat"], "#801818", "Zone Sensible Heating", 853),
             (1070, 1124, C["cool"], "#10108a", "Zone Sensible Cooling", 1137)]),
    (842.7, [(97, 150, C["fresh"], "#5a105a", "Mech Vent + Nat Vent + Infiltration", 164)]),
]
for ly, items in LEGENDS:
    for x0, x1, fill, edge, label, tx in items:
        shapes.append(dict(type="rect", xref="paper", yref="paper", layer="above",
                           x0=fx(x0), x1=fx(x1), y0=fy(ly + 3), y1=fy(ly - 3),
                           fillcolor=fill, line=dict(color=edge, width=1)))
        annotations.append(dict(text=label, xref="paper", yref="paper", showarrow=False,
                                x=fx(tx), y=fy(ly), xanchor="left", yanchor="middle",
                                font=dict(family=FONT, size=17.2, color=LEG_TXT)))

# Header and footer texts
header = [
    dict(text="Temperatures, Heat Gains and Energy Consumption - Thesis Project, Residential Building",
         x=fx(873), y=fy(19), xanchor="center", yanchor="middle",
         font=dict(family=FONT, size=25, color=TXT)),
    dict(text="EnergyPlus Output", x=fx(17), y=fy(44), xanchor="left", yanchor="middle",
         font=dict(family=FONT, size=18.5, color=TXT)),
    dict(text="1 Jan - 31 Dec, Daily", x=fx(874), y=fy(44), xanchor="center", yanchor="middle",
         font=dict(family=FONT, size=18.5, color=TXT)),
    dict(text="Evaluation", x=fx(1728), y=fy(44), xanchor="right", yanchor="middle",
         font=dict(family=FONT, size=18.5, color=TXT)),
    dict(text="Jan 2002", x=fx(118), y=fy(1103), xanchor="right", yanchor="middle",
         font=dict(family=FONT, size=17.5, color=TXT)),
    dict(text="Day", x=fx(905), y=fy(1103), xanchor="center", yanchor="middle",
         font=dict(family=FONT, size=17.5, color=TXT)),
]
for a in header:
    a.update(xref="paper", yref="paper", showarrow=False)
annotations += header


def yaxis(p, tickvals, ticktext=None):
    d = dict(domain=[fy(p["bot"]), fy(p["top"])], range=p["rng"], anchor="x",
             tickvals=tickvals, ticks="outside", ticklen=14, tickcolor=GRID, tickwidth=1,
             showgrid=True, gridcolor=GRID, gridwidth=1, zeroline=False, showline=False,
             automargin=False,
             tickfont=dict(family=FONT, size=18, color=TXT), fixedrange=True)
    if ticktext is not None:
        d["ticktext"] = ticktext
    return d


fig.update_layout(
    width=W, height=H, margin=dict(l=0, r=0, t=0, b=0, pad=0, autoexpand=False),
    paper_bgcolor="white", plot_bgcolor="rgba(0,0,0,0)", showlegend=False,
    font=dict(family=FONT, size=18, color=TXT),
    xaxis=dict(domain=[fx(X_L), fx(X_R)], type="date", anchor="y4",
               range=["2001-12-31 21:36", "2002-12-31 21:36"],
               tickvals=x_tick_dates, ticktext=x_tick_text, ticks="outside", ticklen=6,
               tickcolor="rgba(0,0,0,0)", showgrid=False, zeroline=False, showline=False,
               automargin=False,
               tickfont=dict(family=FONT, size=17.5, color=TXT), fixedrange=True),
    yaxis=yaxis(PANELS[0], fuel_ticks),
    yaxis2=yaxis(PANELS[1], temp_ticks),
    yaxis3=yaxis(PANELS[2], heat_ticks, heat_tick_text),
    yaxis4=yaxis(PANELS[3], air_ticks, air_tick_text),
    shapes=shapes, annotations=annotations,
)

fig.write_html("out.html")
